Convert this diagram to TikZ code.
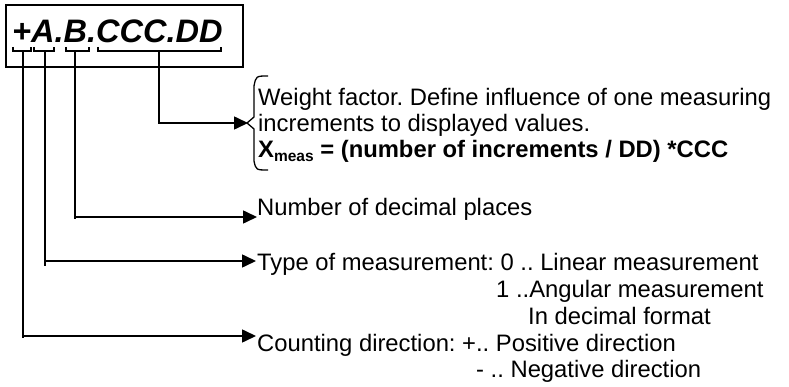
\documentclass[tikz,border=0pt]{standalone}
\usepackage{fontspec}
\setmainfont{Liberation Sans}
\usetikzlibrary{arrows.meta}
\frenchspacing
\begin{document}
\begin{tikzpicture}[x=1pt,y=-1pt,
  lbl/.style={anchor=base west,inner sep=0pt,font=\fontsize{23.8}{26}\selectfont},
  conn/.style={line width=1.6pt,-{Triangle[length=14pt,width=13pt]}},
  plain/.style={line width=1.6pt},
  brk/.style={line width=1.2pt},
  frame/.style={draw,line width=1.6pt,anchor=north west,inner sep=0pt}]
\useasboundingbox (0,0) rectangle (789,387);
% title box
\node[frame,minimum width=237pt,minimum height=62pt] (box) at (5,4) {};
\node[anchor=base west,inner sep=0pt,font=\fontsize{32.5}{33}\selectfont\bfseries\itshape] (title) at (12,43) {+A.B.CCC.DD};
% brackets under the fields
\draw[brk] (13,47) -- (13,51) -- (31,51) -- (31,47);
\draw[brk] (34,47) -- (34,51) -- (54,51) -- (54,47);
\draw[brk] (66,47) -- (66,51) -- (89,51) -- (89,47);
\draw[brk] (98,47) -- (98,51) -- (221,51) -- (221,47);
\coordinate (fP) at (23,51);
\coordinate (fA) at (45,51);
\coordinate (fB) at (75,51);
\coordinate (fC) at (159,51);
% brace
\draw[line width=1.3pt] (268,76) .. controls (256,76) .. (254,86) -- (254,117) -- (247,123) -- (254,129) -- (254,161) .. controls (256,170) .. (268,170);
\coordinate (brace) at (248,123);
% texts
\node[lbl] (w1) at (258,106) {Weight factor. Define influence of one measuring};
\node[lbl] (w2) at (258,132) {increments to displayed values.};
\node[lbl,font=\fontsize{23.8}{26}\selectfont\bfseries] (w3) at (258,158) {X\raisebox{-4pt}{\fontsize{15.5}{15.5}\selectfont meas} = (number of increments / DD) *CCC};
\node[lbl] (num) at (257,216) {Number of decimal places};
\node[lbl] (typ) at (257,270) {Type of measurement: 0 .. Linear measurement};
\node[lbl] (typ1) at (496,297) {1 ..Angular measurement};
\node[lbl] (typ2) at (528,324) {In decimal format};
\node[lbl] (cnt) at (257,351) {Counting direction: +.. Positive direction};
\node[lbl] (cnt1) at (476,377) {- .. Negative direction};
\coordinate (tB) at (257,217);
\coordinate (tA) at (256,261);
\coordinate (tP) at (256,336);
% connectors
\draw[conn] (fC) |- (brace);
\draw[conn] (fB) |- (tB);
\draw[conn] (fA) |- (tA);
\draw[conn] (fP) |- (tP);
% small overshoots of the vertical leads
\draw[plain] (fB |- tB) -- ++(0,2);
\draw[plain] (fA |- tA) -- ++(0,5);
\draw[plain] (fP |- tP) -- ++(0,2);
\end{tikzpicture}
\end{document}
